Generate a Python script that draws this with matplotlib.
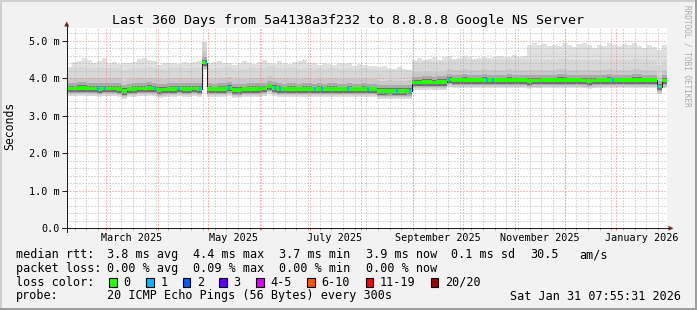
import datetime as dt
import numpy as np
import matplotlib
matplotlib.use("Agg")
import matplotlib.pyplot as plt
import matplotlib.transforms as mtrans
from matplotlib.lines import Line2D
from matplotlib.patches import Rectangle, Polygon

plt.rcParams['font.family'] = ['DejaVu Sans Mono', 'DejaVu Sans']
plt.rcParams['lines.scale_dashes'] = False

W, H = 697, 310

end_time = dt.datetime(2026, 1, 31, 7, 55, 31)
start_time = end_time - dt.timedelta(days=360)

# one sample every 3 days, values in ms
sample_days = 3
median_ms = [3.73, 3.73, 3.74, 3.74, 3.73, 3.73, 3.72, 3.73, 3.73, 3.73,
             3.72, 3.66, 3.71, 3.72, 3.73, 3.73, 3.74, 3.73, 3.69, 3.70,
             3.72, 3.72, 3.73, 3.72, 3.72, 3.73, 3.72, 4.42, 3.72, 3.71,
             3.72, 3.72, 3.75, 3.69, 3.69, 3.71, 3.72, 3.72, 3.72, 3.73,
             3.79, 3.74, 3.72, 3.71, 3.72, 3.72, 3.71, 3.72, 3.72, 3.71,
             3.72, 3.71, 3.72, 3.72, 3.71, 3.71, 3.72, 3.71, 3.71, 3.72,
             3.71, 3.71, 3.66, 3.66, 3.67, 3.66, 3.66, 3.66, 3.67, 3.89,
             3.89, 3.90, 3.90, 3.89, 3.90, 3.90, 3.97, 3.95, 3.95, 3.96,
             3.95, 3.95, 3.95, 3.96, 3.95, 3.95, 3.95, 3.95, 3.96, 3.95,
             3.95, 3.95, 3.93, 3.94, 3.94, 3.95, 3.95, 3.95, 3.96, 3.96,
             3.95, 3.95, 3.95, 3.94, 3.93, 3.94, 3.95, 3.95, 3.96, 3.95,
             3.95, 3.95, 3.95, 3.96, 3.96, 3.95, 3.95, 3.95, 3.78, 3.94]
max_ms = [4.31, 4.44, 4.47, 4.53, 4.50, 4.42, 4.47, 4.53, 4.40, 4.44,
          4.38, 4.41, 4.40, 4.44, 4.52, 4.55, 4.50, 4.45, 4.36, 4.42,
          4.40, 4.42, 4.38, 4.44, 4.40, 4.44, 4.46, 4.98, 4.40, 4.43,
          4.45, 4.40, 4.41, 4.36, 4.42, 4.45, 4.40, 4.38, 4.43, 4.48,
          4.42, 4.38, 4.47, 4.40, 4.38, 4.43, 4.47, 4.50, 4.42, 4.40,
          4.36, 4.42, 4.38, 4.35, 4.40, 4.37, 4.40, 4.32, 4.38, 4.36,
          4.34, 4.32, 4.30, 4.33, 4.28, 4.26, 4.30, 4.25, 4.22, 4.50,
          4.55, 4.48, 4.52, 4.56, 4.50, 4.58, 4.60, 4.52, 4.55, 4.60,
          4.58, 4.52, 4.55, 4.58, 4.54, 4.57, 4.60, 4.56, 4.58, 4.62,
          4.57, 4.60, 4.90, 4.93, 4.88, 4.92, 4.85, 4.90, 4.86, 4.93,
          4.89, 4.84, 4.92, 4.95, 4.88, 4.82, 4.90, 4.87, 4.94, 4.90,
          4.85, 4.91, 4.88, 4.95, 4.86, 4.80, 4.90, 4.84, 4.75, 4.88]

# smoke spread of the sorted pings around the median (ms), outer -> inner
smoke_up = [0.55, 0.28, 0.15, 0.07]
smoke_down = [0.21, 0.19, 0.16, 0.13, 0.10]
smoke_colors = ['#e0e0e0', '#d7d7d7', '#c9c9c9', '#aaaaaa', '#707070']

# days (from start) where pings were lost, and how many of 20
loss_day = [18.8, 22.8, 52.8, 67.2, 79.8, 83.2, 96.9, 124.8, 127.8, 148.8,
            152.8, 168.8, 180.6, 197.8, 205.8, 229.2, 252.0, 255.6, 327.6, 354.6]
loss_count = [1] * len(loss_day)

loss_labels = ['0', '1', '2', '3', '4-5', '6-10', '11-19', '20/20']
loss_colors = ['#26ff00', '#00b8ff', '#0059ff', '#5e00ff', '#dd00ff',
               '#ff5500', '#ff0000', '#a10000']

title = 'Last 360 Days from 5a4138a3f232 to 8.8.8.8 Google NS Server'
rtt_stats = ['3.8 ms avg', '4.4 ms max', '3.7 ms min', '3.9 ms now', '0.1 ms sd']
loss_stats = ['0.00 % avg', '0.09 % max', '0.00 % min', '0.00 % now']


def days(t):
    return (t - start_time).total_seconds() / 86400.0


def fx(x):
    return x / W


def fy(y):
    return 1 - y / H


fig = plt.figure(figsize=(W / 100, H / 100), dpi=100)
fig.patch.set_facecolor('#f2f2f2')
tf = fig.transFigure

# rrdtool style shaded frame
for (x, y, w, h, c) in [(0, 0, W, 2, '#cfcfcf'), (0, 0, 2, H, '#cfcfcf'),
                        (0, H - 2, W, 2, '#9e9e9e'), (W - 2, 0, 2, H, '#9e9e9e')]:
    fig.add_artist(Rectangle((fx(x), fy(y + h)), w / W, h / H, transform=tf,
                             color=c, lw=0))

ax = fig.add_axes([fx(67), fy(228.3), 600 / W, 200.3 / H])
ax.set_facecolor('white')
for s in ax.spines.values():
    s.set_visible(False)

med = np.array(median_ms)
mx = np.array(max_ms)
edges = np.arange(len(med) + 1) * sample_days


def stepy(a):
    return np.append(a, a[-1])


# smoke
ax.fill_between(edges, stepy(med - smoke_down[0]), stepy(mx), step='post',
                color=smoke_colors[0], lw=0, zorder=1)
for k in range(4):
    top = np.minimum(med + smoke_up[k], mx)
    ax.fill_between(edges, stepy(med - smoke_down[k + 1]), stepy(top), step='post',
                    color=smoke_colors[k + 1], lw=0, zorder=1)

# grid
month_starts = [dt.datetime(2025, m, 1) for m in range(3, 13)] + [dt.datetime(2026, 1, 1)]
month_days = [days(t) for t in month_starts]
week_days = []
t = dt.datetime(2025, 2, 10)
while t < end_time:
    week_days.append(days(t))
    t += dt.timedelta(days=7)

dots = (0, (0.72, 1.44))
ymax = 200.3 / 37.5
gkw = dict(lw=0.72, ls=dots, zorder=2)
for v in np.arange(0.2, ymax, 0.2):
    if abs(v - round(v)) > 0.01:
        ax.axhline(v, color='#b4b4b4', **gkw)
for d in week_days:
    ax.axvline(d, color='#b4b4b4', **gkw)
for v in range(1, 6):
    ax.axhline(v, color='#e88888', **gkw)
for d in month_days:
    ax.axvline(d, color='#e88888', **gkw)

# median line and loss colour band
hw = 0.05
ax.step(edges, stepy(med), where='post', color='#202020', lw=0.72, zorder=3)
ax.bar(edges[:-1], 2 * hw, bottom=med - hw, width=sample_days, align='edge',
       color=loss_colors[0], lw=0, zorder=4)
idx = (np.array(loss_day) // sample_days).astype(int)
ax.bar(loss_day, 2 * hw, bottom=med[idx] - hw, width=1.2,
       color=[loss_colors[n] for n in loss_count], lw=0, zorder=5)

ax.set_xlim(0, 360)
ax.set_ylim(0, ymax)

ax.set_yticks(range(6))
ax.set_yticklabels(['0.0'] + ['%d.0 m' % v for v in range(1, 6)], fontsize=7.3)
ax.tick_params(axis='y', length=3.6, width=0.72, color='#1f1f1f', pad=1.5)
ax.set_xticks(month_days)
ax.set_xticklabels([])
ax.tick_params(axis='x', which='major', length=1.5, width=0.72, color='#e07070')
ax.set_xticks(week_days, minor=True)
ax.tick_params(axis='x', which='minor', length=1.5, width=0.72, color='#b0b0b0')

# month labels, centred half a month after the month start
bt = mtrans.blended_transform_factory(ax.transData, tf)
for t in month_starts[::2]:
    ax.text(days(t) + 15, fy(241), t.strftime('%B %Y'), transform=bt,
            ha='center', va='baseline', fontsize=7.3)

# axes with arrows
arrow_c = '#7f1f1f'
fig.add_artist(Line2D([fx(62), fx(669)], [fy(228.3), fy(228.3)], transform=tf,
                      color='#1f1f1f', lw=0.72))
fig.add_artist(Line2D([fx(66.7), fx(66.7)], [fy(232), fy(26)], transform=tf,
                      color='#1f1f1f', lw=0.72))
fig.add_artist(Polygon([(fx(668.5), fy(225.8)), (fx(673.5), fy(228.3)),
                        (fx(668.5), fy(230.8))], closed=True, transform=tf,
                       color=arrow_c, lw=0))
fig.add_artist(Polygon([(fx(64.2), fy(26.5)), (fx(66.7), fy(21.5)),
                        (fx(69.2), fy(26.5))], closed=True, transform=tf,
                       color=arrow_c, lw=0))

# texts
fig.text(fx(347.5), fy(24), title, ha='center', va='baseline', fontsize=9.6)
fig.text(fx(10), fy(126), 'Seconds', rotation=90, ha='center', va='center',
         fontsize=8.3)
fig.text(fx(687), fy(5), 'RRDTOOL / TOBI OETIKER', rotation=270, ha='center',
         va='top', fontsize=5.6, color='#aaaaaa')

fs = 8.5
rows = [258.3, 272.0, 285.7, 299.5]
fig.text(fx(16), fy(rows[0]), 'median rtt:', fontsize=fs, va='baseline')
for x, s in zip([107.3, 192.7, 279.3, 365.7, 451], rtt_stats):
    fig.text(fx(x), fy(rows[0]), s, fontsize=fs, va='baseline')
fig.text(fx(530), fy(rows[0]), '30.5', fontsize=fs, va='baseline')
fig.text(fx(579.3), fy(rows[0]), 'am/s', fontsize=fs, va='baseline')

fig.text(fx(16), fy(rows[1]), 'packet loss:', fontsize=fs, va='baseline')
for x, s in zip([107.3, 193.3, 279.3, 365.7], loss_stats):
    fig.text(fx(x), fy(rows[1]), s, fontsize=fs, va='baseline')

fig.text(fx(16), fy(rows[2]), 'loss color:', fontsize=fs, va='baseline')
box_x = [109, 146, 182.7, 219.3, 256, 307.3, 365.7, 430.7]
for x, lab, c in zip(box_x, loss_labels, loss_colors):
    fig.add_artist(Rectangle((fx(x), fy(286.5)), 7.5 / W, 9 / H, transform=tf,
                             facecolor=c, edgecolor='black', lw=0.8))
    fig.text(fx(x + 14.3), fy(rows[2]), lab, fontsize=fs, va='baseline')

fig.text(fx(16), fy(rows[3]), 'probe:', fontsize=fs, va='baseline')
fig.text(fx(107.3), fy(rows[3]), '20 ICMP Echo Pings (56 Bytes) every 300s',
         fontsize=fs, va='baseline')
fig.text(fx(681), fy(rows[3]), end_time.strftime('%a %b %d %H:%M:%S %Y'),
         fontsize=fs, va='baseline', ha='right')

fig.savefig('out.png', dpi=100, facecolor=fig.get_facecolor())
